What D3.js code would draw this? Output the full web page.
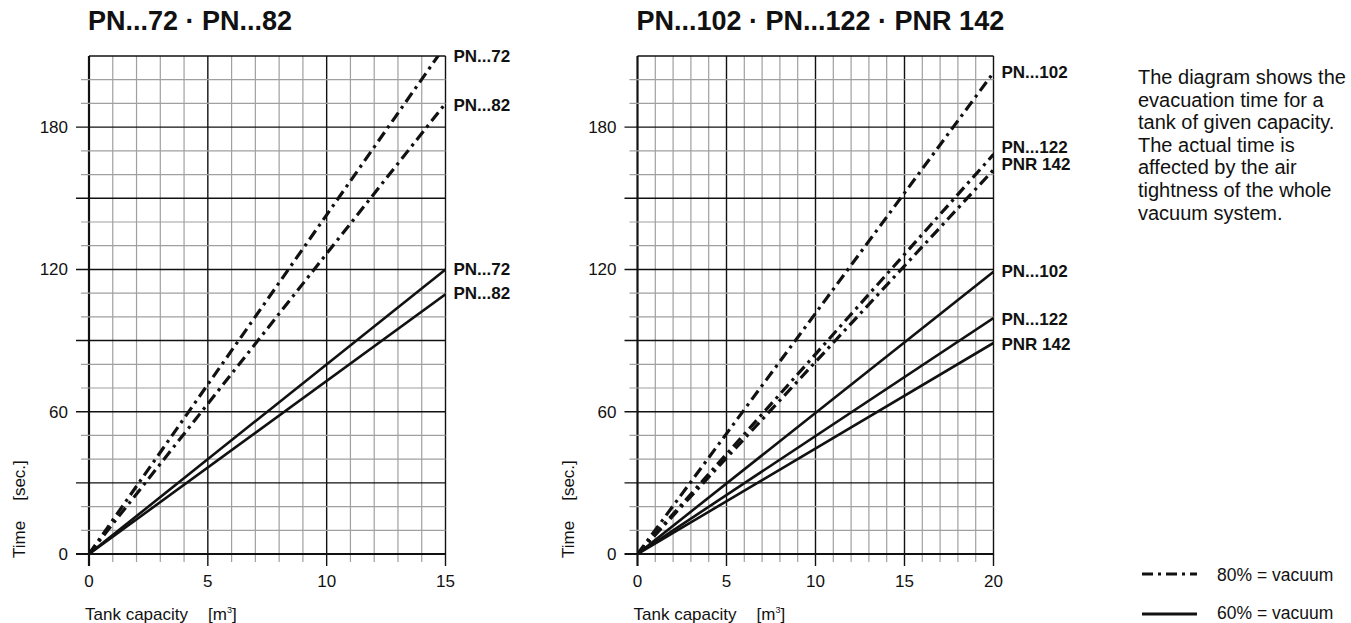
<!DOCTYPE html>
<html lang="en">
<head>
<meta charset="utf-8">
<title>Evacuation time vs tank capacity</title>
<script src="https://d3js.org/d3.v7.min.js"></script>
<style>
  body { margin: 0; background: #fff; font-family: "Liberation Sans", Arial, sans-serif; }
  svg text { fill: #111; }
  .title { font-weight: bold; font-size: 27px; }
  .tick-label { font-size: 17px; }
  .axis-label { font-size: 17px; }
  .line-label { font-weight: bold; font-size: 17px; }
  .note { font-size: 20px; }
  .legend-label { font-size: 17.5px; }
</style>
</head>
<body>
<script>
  // ------------------------------------------------
  // Data (time in sec. at the largest tank capacity)
  // ------------------------------------------------
  const leftTitle = "PN...72 · PN...82";
  const leftModels = ["PN...72", "PN...82"];
  const leftTime80 = [214.5, 190];
  const leftTime60 = [120, 109.5];
  const leftMaxCapacity = 15;
  const leftXTicks = [0, 5, 10, 15];

  const rightTitle = "PN...102 · PN...122 · PNR 142";
  const rightModels = ["PN...102", "PN...122", "PNR 142"];
  const rightTime80 = [203, 168.5, 162];
  const rightTime60 = [119, 99.5, 89];
  const rightMaxCapacity = 20;
  const rightXTicks = [0, 5, 10, 15, 20];

  const yTicks = [0, 60, 120, 180];
  const yMax = 210;

  const noteLines = [
    "The diagram shows the",
    "evacuation time for a",
    "tank of given capacity.",
    "The actual time is",
    "affected by the air",
    "tightness of the whole",
    "vacuum system."
  ];
  const legendLabels = ["80% = vacuum", "60% = vacuum"];

  // ------------------------------------------------
  // Layout
  // ------------------------------------------------
  const width = 1351, height = 623;
  const plotTop = 56, plotBottom = 554;
  const dashDot = "11 5 3 5";

  const svg = d3.select("body").append("svg")
    .attr("width", width)
    .attr("height", height);

  function drawPanel(cfg) {
    const g = svg.append("g");
    const x = d3.scaleLinear().domain([0, cfg.maxCap]).range([cfg.left, cfg.right]);
    const y = d3.scaleLinear().domain([0, yMax]).range([plotBottom, plotTop]);

    const xGrid = d3.range(0, cfg.maxCap + 1);
    const yGrid = d3.range(0, yMax + 1, 10);
    const isMajorX = d => d % 5 === 0;
    const isMajorY = d => d % 30 === 0;

    // minor grid first, major on top
    const vOrder = xGrid.slice().sort((a, b) => isMajorX(a) - isMajorX(b));
    const hOrder = yGrid.slice().sort((a, b) => isMajorY(a) - isMajorY(b));

    g.selectAll(".vgrid").data(vOrder).join("line")
      .attr("class", "vgrid")
      .attr("x1", d => x(d)).attr("x2", d => x(d))
      .attr("y1", plotTop)
      .attr("y2", d => plotBottom + (isMajorX(d) ? 12 : 8))
      .attr("stroke", d => isMajorX(d) ? "#111" : "#a0a0a0")
      .attr("stroke-width", d => d === 0 ? 2.2 : (isMajorX(d) ? 1.4 : 1.2));

    g.selectAll(".hgrid").data(hOrder).join("line")
      .attr("class", "hgrid")
      .attr("x1", d => d === yMax ? x(0) : x(0) - (isMajorY(d) ? 13 : 8))
      .attr("x2", x(cfg.maxCap))
      .attr("y1", d => y(d)).attr("y2", d => y(d))
      .attr("stroke", d => isMajorY(d) ? "#111" : "#a0a0a0")
      .attr("stroke-width", d => d === 0 ? 2.2 : (isMajorY(d) ? 1.4 : 1.2));

    // tick labels
    g.selectAll(".ytick").data(yTicks).join("text")
      .attr("class", "tick-label")
      .attr("x", x(0) - 21)
      .attr("y", d => y(d) + 6)
      .attr("text-anchor", "end")
      .text(d => d);

    g.selectAll(".xtick").data(cfg.xTicks).join("text")
      .attr("class", "tick-label")
      .attr("x", d => x(d))
      .attr("y", 587)
      .attr("text-anchor", "middle")
      .text(d => d);

    // axis labels
    const xl = g.append("text").attr("class", "axis-label")
      .attr("x", x(0) - 4).attr("y", 620);
    xl.append("tspan").text("Tank capacity");
    xl.append("tspan").attr("dx", 20).text("[m");
    xl.append("tspan").attr("dy", -7).attr("font-size", "9px").text("3");
    xl.append("tspan").attr("dy", 7).text("]");

    const yl = g.append("text").attr("class", "axis-label")
      .attr("transform", `translate(${x(0) - 64},558) rotate(-90)`);
    yl.append("tspan").text("Time");
    yl.append("tspan").attr("dx", 20).text("[sec.]");

    // title
    g.append("text").attr("class", "title")
      .attr("x", x(0) - 1).attr("y", 30)
      .text(cfg.title);

    // series lines, clipped to the plot
    const clipId = "clip-" + cfg.id;
    svg.append("clipPath").attr("id", clipId)
      .append("rect")
      .attr("x", x(0)).attr("y", plotTop)
      .attr("width", x(cfg.maxCap) - x(0))
      .attr("height", plotBottom - plotTop);

    const line = d3.line().x(d => x(d[0])).y(d => y(d[1]));
    const series = [];
    cfg.models.forEach((m, i) => {
      series.push({ name: m, end: cfg.t80[i], dash: true, dy: cfg.dy80[i] });
      series.push({ name: m, end: cfg.t60[i], dash: false, dy: cfg.dy60[i] });
    });

    const lg = g.append("g").attr("clip-path", `url(#${clipId})`);
    lg.selectAll("path").data(series).join("path")
      .attr("d", d => line([[0, 0], [cfg.maxCap, d.end]]))
      .attr("fill", "none")
      .attr("stroke", "#111")
      .attr("stroke-width", d => d.dash ? 3.2 : 2.6)
      .attr("stroke-dasharray", d => d.dash ? dashDot : null);

    g.selectAll(".line-label").data(series).join("text")
      .attr("class", "line-label")
      .attr("x", x(cfg.maxCap) + 8)
      .attr("y", d => y(Math.min(d.end, yMax)) + d.dy)
      .text(d => d.name);
  }

  drawPanel({
    id: "left", title: leftTitle, left: 89, right: 445.5,
    maxCap: leftMaxCapacity, xTicks: leftXTicks,
    models: leftModels, t80: leftTime80, t60: leftTime60,
    dy80: [6, 8], dy60: [5.5, 5]
  });

  drawPanel({
    id: "right", title: rightTitle, left: 637.5, right: 993.5,
    maxCap: rightMaxCapacity, xTicks: rightXTicks,
    models: rightModels, t80: rightTime80, t60: rightTime60,
    dy80: [5.5, -1.5, 0], dy60: [5, 7, 7]
  });

  // ------------------------------------------------
  // Note text
  // ------------------------------------------------
  svg.append("g").selectAll("text").data(noteLines).join("text")
    .attr("class", "note")
    .attr("x", 1138)
    .attr("y", (d, i) => 84 + i * 22.6)
    .text(d => d);

  // ------------------------------------------------
  // Legend
  // ------------------------------------------------
  const legend = svg.append("g");
  const legendY = [574, 614];
  legend.selectAll("line").data(legendLabels).join("line")
    .attr("x1", 1142).attr("x2", 1197)
    .attr("y1", (d, i) => legendY[i]).attr("y2", (d, i) => legendY[i])
    .attr("stroke", "#111")
    .attr("stroke-width", (d, i) => i === 0 ? 3.2 : 2.8)
    .attr("stroke-dasharray", (d, i) => i === 0 ? dashDot : null);

  legend.selectAll("text").data(legendLabels).join("text")
    .attr("class", "legend-label")
    .attr("x", 1217)
    .attr("y", (d, i) => legendY[i] + (i === 0 ? 7 : 4.5))
    .text(d => d);
</script>
</body>
</html>
